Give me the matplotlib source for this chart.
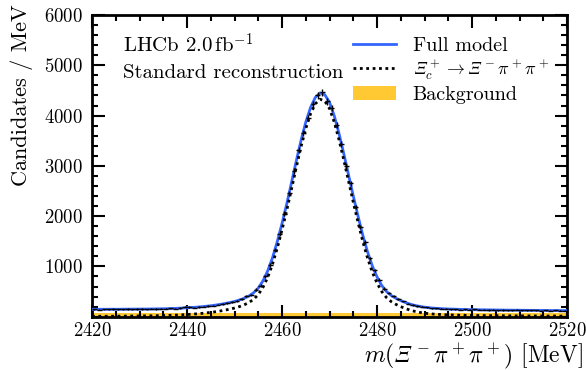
import numpy as np
import matplotlib
matplotlib.use("Agg")
import matplotlib.pyplot as plt
from matplotlib.ticker import MultipleLocator

plt.rcParams['font.family'] = ['cmr10', 'DejaVu Serif']
plt.rcParams['mathtext.fontset'] = 'cm'
plt.rcParams['axes.formatter.use_mathtext'] = True

# model curves, evaluated at 1 MeV steps from 2420 to 2520
model_x = list(range(2420, 2521))
signal = [8, 8, 9, 9, 10, 10, 11, 12, 13, 14,
          15, 16, 17, 19, 21, 23, 26, 29, 33, 38,
          44, 50, 57, 65, 75, 86, 99, 114, 131, 150,
          172, 200, 235, 280, 345, 440, 585, 785, 1045, 1365,
          1725, 2116, 2540, 2969, 3377, 3741, 4033, 4233, 4325, 4290,
          4140, 3870, 3520, 3120, 2700, 2280, 1880, 1500, 1170, 890,
          670, 500, 380, 300, 245, 200, 162, 130, 105, 86,
          71, 60, 52, 46, 41, 37, 34, 31, 29, 27,
          25, 24, 23, 22, 21, 20, 19, 18, 18, 17,
          16, 16, 15, 15, 14, 14, 13, 13, 13, 12, 12]
total = [148, 148, 148, 148, 149, 148, 149, 150, 151, 151,
         152, 153, 153, 155, 157, 158, 161, 164, 168, 172,
         178, 184, 190, 198, 208, 218, 231, 246, 263, 281,
         303, 331, 365, 410, 475, 569, 714, 914, 1173, 1493,
         1853, 2244, 2667, 3096, 3504, 3867, 4159, 4359, 4450, 4415,
         4265, 3994, 3644, 3244, 2823, 2403, 2003, 1622, 1292, 1012,
         792, 621, 501, 421, 365, 320, 282, 249, 224, 205,
         190, 178, 170, 164, 158, 154, 151, 147, 145, 143,
         141, 139, 138, 137, 135, 134, 133, 131, 131, 130,
         129, 128, 127, 127, 125, 125, 124, 123, 123, 122, 122]
background = [75] * 101

# data histogram (1 MeV bins)
bin_centers = [2420.5 + i for i in range(100)]
counts = [145, 140, 150, 146, 152, 147, 150, 155, 149, 153,
          156, 150, 158, 154, 160, 157, 165, 162, 171, 200,
          192, 183, 196, 201, 215, 222, 240, 252, 275, 292,
          318, 345, 420, 430, 540, 620, 800, 1030, 1330, 1640,
          2050, 2460, 2900, 3310, 3660, 3950, 4220, 4400, 4460, 4280,
          4150, 3820, 3440, 3000, 2650, 2180, 1790, 1490, 1160, 920,
          740, 560, 470, 410, 350, 305, 260, 232, 212, 200,
          188, 170, 168, 158, 160, 150, 150, 143, 148, 138,
          145, 136, 140, 133, 136, 130, 134, 128, 132, 140,
          127, 130, 124, 128, 122, 126, 120, 124, 121, 123]

XI = '\U0001D6EF'

fig = plt.figure(figsize=(5.86, 3.70), dpi=100)
ax = fig.add_axes([0.157, 0.144, 0.8106, 0.8155])

ax.fill_between(model_x, 0, background, color='#FFC933', lw=0, label='Background', zorder=1)
ax.plot(model_x, total, color='#3366FF', lw=2.0, label='Full model', zorder=3)
ax.plot(model_x, signal, color='black', lw=2.0, ls=(0, (1, 1.3)),
        label=r'$%s_c^+ \to %s^-\pi^+\pi^+$' % (XI, XI), zorder=4)
c = np.array(counts)
ax.errorbar(bin_centers, counts, yerr=np.sqrt(c), xerr=0.5, fmt='none',
            ecolor='black', elinewidth=1.0, capsize=0, zorder=5)

ax.set_xlim(2420, 2520)
ax.set_ylim(0, 6000)
ax.xaxis.set_major_locator(MultipleLocator(20))
ax.xaxis.set_minor_locator(MultipleLocator(5))
ax.yaxis.set_minor_locator(MultipleLocator(200))
ax.set_yticks([1000, 2000, 3000, 4000, 5000, 6000])
ax.tick_params(which='both', direction='in', top=True, right=True, width=1.5,
               labelsize=13.5, pad=7)
ax.tick_params(axis='x', which='both', pad=4)
ax.tick_params(which='major', length=9)
ax.tick_params(which='minor', length=4.5)
for s in ax.spines.values():
    s.set_linewidth(2.0)

fig.text(583 / 586, 1 - 356 / 370, r'$m(%s^-\pi^+\pi^+)$ [MeV]' % XI,
         fontsize=17, ha='right', va='center')
fig.text(22 / 586, 1 - 4 / 370, 'Candidates / MeV', fontsize=16,
         rotation=90, ha='center', va='top')

ax.text(0.065, 0.875, r'LHCb 2.0$\,$fb$^{-1}$', transform=ax.transAxes, fontsize=15)
ax.text(0.065, 0.79, 'Standard reconstruction', transform=ax.transAxes, fontsize=15)

handles, labels = ax.get_legend_handles_labels()
order = [1, 2, 0]
leg = ax.legend([handles[i] for i in order], [labels[i] for i in order],
                loc='upper left', bbox_to_anchor=(0.52, 0.975), frameon=False, fontsize=14.5,
                handlelength=2.15, handletextpad=0.8, labelspacing=0.2, borderaxespad=0.3)
leg.get_texts()[1].set_fontsize(13)

fig.savefig('out.png', dpi=100)
